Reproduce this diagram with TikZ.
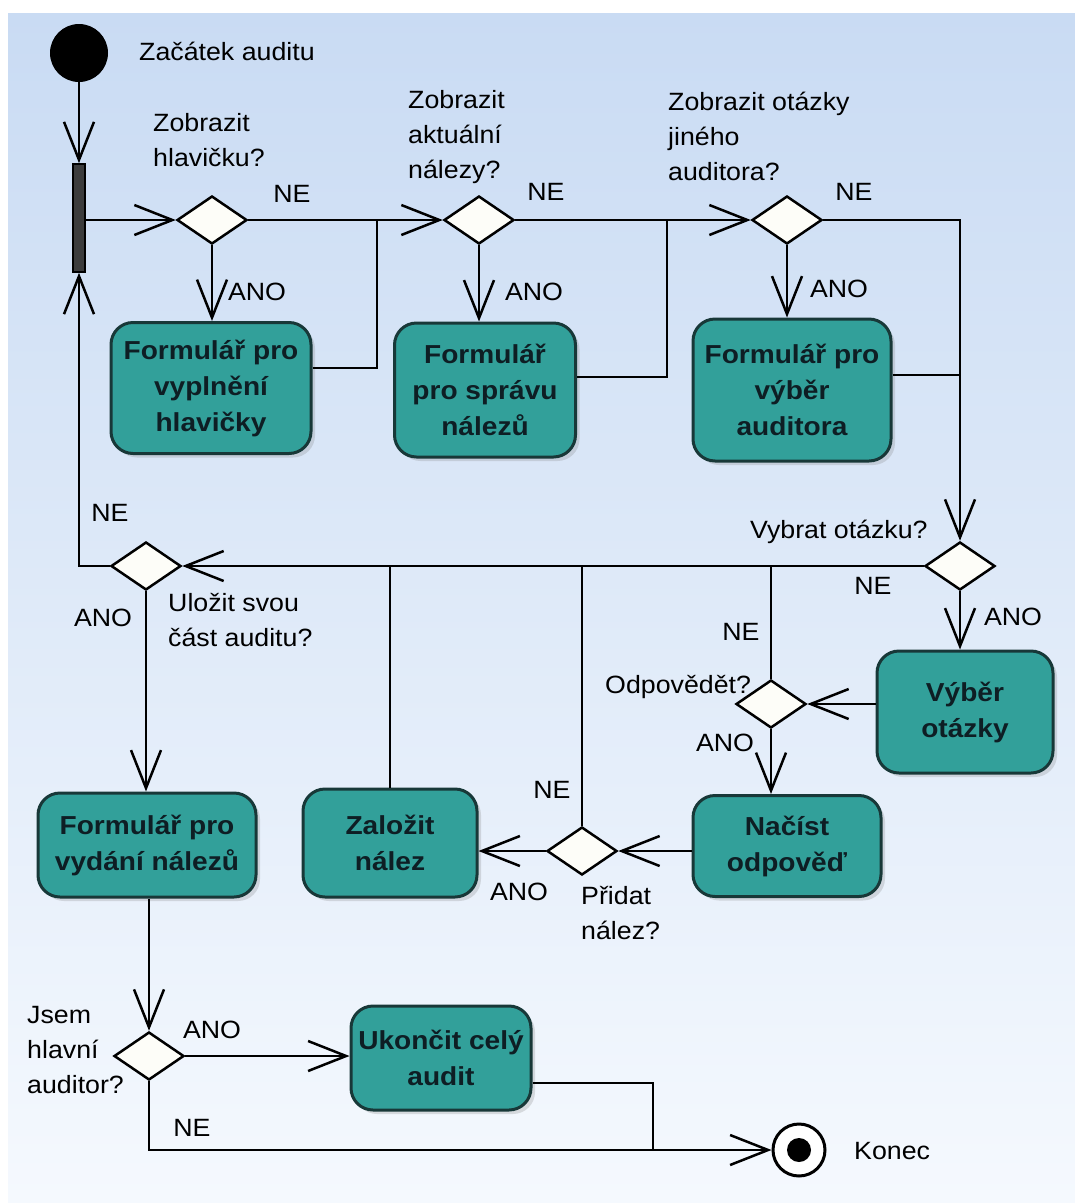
\documentclass[tikz,border=0pt]{standalone}
\usepackage{fontspec}
\setmainfont{Liberation Sans}[FakeStretch=1.07]
\newfontfamily\actfont{Liberation Sans}[FakeStretch=1.08]
\usetikzlibrary{arrows.meta,shapes.geometric,shadows}

\definecolor{bgtop}{RGB}{201,219,243}
\definecolor{bgbot}{RGB}{245,249,254}
\definecolor{actfill}{RGB}{50,160,154}
\definecolor{actdraw}{RGB}{24,56,56}
\definecolor{acttext}{RGB}{14,30,36}
\definecolor{decfill}{RGB}{253,253,248}
\definecolor{forkfill}{RGB}{60,60,60}

\begin{document}
\begin{tikzpicture}[x=1pt, y=-1pt,
    lbl/.style={font=\fontsize{25}{35}\selectfont, inner sep=0pt, align=left},
    act/.style={rectangle, rounded corners=22pt, draw=actdraw, line width=3pt,
        fill=actfill, text=acttext, align=center, inner sep=0pt,
        font=\actfont\bfseries\fontsize{26}{36}\selectfont,
        drop shadow={opacity=0.25, shadow xshift=4pt, shadow yshift=-4pt}},
    dec/.style={diamond, draw, line width=2.5pt, fill=decfill,
        minimum width=70pt, minimum height=48pt, inner sep=0pt},
    wire/.style={line width=2.5pt},
    flow/.style={wire, -{Straight Barb[length=38pt, width=30pt]}}]

    \useasboundingbox (0,0) rectangle (1075,1203);
    \fill[white] (0,0) rectangle (1075,1203);
    \shade[top color=bgtop, bottom color=bgbot] (8,13) rectangle (1075,1203);

    % start and fork
    \node[circle, fill=black, minimum size=58pt, inner sep=0pt] (start) at (79,53) {};
    \node[lbl, anchor=base west] (zacatek) at (139,60) {Začátek auditu};
    \node[rectangle, draw, line width=1.5pt, fill=forkfill, minimum width=12pt,
        minimum height=108pt, inner sep=0pt] (fork) at (79,218) {};

    % decisions
    \node[dec] (hlav) at (212,220) {};
    \node[dec] (nalez) at (479,220) {};
    \node[dec] (jiny) at (787,220) {};
    \node[dec] (vybrat) at (960,566) {};
    \node[dec] (ulozit) at (146,566) {};
    \node[dec] (odpov) at (771,704) {};
    \node[dec] (pridat) at (582,851) {};
    \node[dec] (hlavni) at (149,1056) {};

    % activities
    \node[act, minimum width=200pt, minimum height=131pt] (fvypl) at (211,388) {Formulář pro\\vyplnění\\hlavičky};
    \node[act, minimum width=181pt, minimum height=134pt] (fsprav) at (485,390) {Formulář\\pro správu\\nálezů};
    \node[act, minimum width=198pt, minimum height=142pt] (fvyber) at (792,390) {Formulář pro\\výběr\\auditora};
    \node[act, minimum width=176pt, minimum height=122pt] (votazky) at (965,712) {Výběr\\otázky};
    \node[act, minimum width=188pt, minimum height=101pt] (nacist) at (787,846) {Načíst\\odpověď};
    \node[act, minimum width=174pt, minimum height=108pt] (zalozit) at (390,843) {Založit\\nález};
    \node[act, minimum width=218pt, minimum height=104pt] (fvydani) at (147,845) {Formulář pro\\vydání nálezů};
    \node[act, minimum width=180pt, minimum height=104pt] (ukoncit) at (441,1058) {Ukončit celý\\audit};

    % end
    \node[circle, draw, line width=3pt, fill=white, minimum size=52pt, inner sep=0pt] (konec) at (799,1150) {};
    \fill (konec) circle (12pt);
    \node[lbl, anchor=base west] (konectxt) at (854,1159) {Konec};

    \coordinate (j1) at (377,220);
    \coordinate (j2) at (667,220);
    \coordinate (j3) at (960,220);
    \coordinate (j4) at (653,1150);

    % flows
    \draw[flow] (start) -- (fork.north);
    \draw[flow] (fork.east |- hlav) -- (hlav.west);
    \draw[flow] (hlav.south) -- (hlav.south |- fvypl.north);
    \draw[flow] (hlav.east) -- (nalez.west);
    \draw[wire] ([yshift=20pt]fvypl.east) -| (j1);
    \draw[flow] (nalez.south) -- (nalez.south |- fsprav.north);
    \draw[flow] (nalez.east) -- (jiny.west);
    \draw[wire] ([yshift=13pt]fsprav.east) -| (j2);
    \draw[flow] (jiny.south) -- (jiny.south |- fvyber.north);
    \draw[flow] (jiny.east) -| (vybrat.north);
    \draw[wire] ([yshift=15pt]fvyber.east) -- ([yshift=15pt]fvyber.east -| j3);
    \draw[flow] (vybrat.south) -- (vybrat.south |- votazky.north);
    \draw[flow] (vybrat.west) -- (ulozit.east);
    \draw[flow] (votazky.west |- odpov) -- (odpov.east);
    \draw[wire] (odpov.north) -- (odpov.north |- vybrat.west);
    \draw[flow] (odpov.south) -- (odpov.south |- nacist.north);
    \draw[flow] (nacist.west |- pridat) -- (pridat.east);
    \draw[wire] (pridat.north) -- (pridat.north |- vybrat.west);
    \draw[flow] (pridat.west) -- (pridat.west -| zalozit.east);
    \draw[wire] (zalozit.north) -- (zalozit.north |- vybrat.west);
    \draw[flow] (ulozit.west) -| (fork.south);
    \draw[flow] (ulozit.south) -- (ulozit.south |- fvydani.north);
    \draw[flow] (fvydani.south -| hlavni) -- (hlavni.north);
    \draw[flow] (hlavni.east) -- (hlavni.east -| ukoncit.west);
    \draw[wire] ([yshift=-25pt]ukoncit.east) -| (j4);
    \draw[flow] (hlavni.south) |- (konec.west);

    % questions
    \node[lbl, anchor=west] (q1) at (153,140) {Zobrazit\\hlavičku?};
    \node[lbl, anchor=west] (q2) at (408,137) {Zobrazit\\aktuální\\nálezy?};
    \node[lbl, anchor=west] (q3) at (668,136) {Zobrazit otázky\\jiného\\auditora?};
    \node[lbl, anchor=base west] (q4) at (750,538) {Vybrat otázku?};
    \node[lbl, anchor=west] (q5) at (168,620) {Uložit svou\\část auditu?};
    \node[lbl, anchor=base west] (q6) at (605,693) {Odpovědět?};
    \node[lbl, anchor=west] (q7) at (581,913) {Přidat\\nález?};
    \node[lbl, anchor=west] (q8) at (27,1050) {Jsem\\hlavní\\auditor?};

    % guards
    \node[lbl] (ne1) at (292,194) {NE};
    \node[lbl] (ano1) at (257,292) {ANO};
    \node[lbl] (ne2) at (546,192) {NE};
    \node[lbl] (ano2) at (534,292) {ANO};
    \node[lbl] (ne3) at (854,192) {NE};
    \node[lbl] (ano3) at (839,289) {ANO};
    \node[lbl] (ne4) at (110,513) {NE};
    \node[lbl] (ano4) at (103,618) {ANO};
    \node[lbl] (ne5) at (873,586) {NE};
    \node[lbl] (ano5) at (1013,617) {ANO};
    \node[lbl] (ne6) at (741,632) {NE};
    \node[lbl] (ano6) at (725,743) {ANO};
    \node[lbl] (ne7) at (552,790) {NE};
    \node[lbl] (ano7) at (519,892) {ANO};
    \node[lbl] (ano8) at (212,1030) {ANO};
    \node[lbl] (ne8) at (192,1128) {NE};
\end{tikzpicture}
\end{document}
